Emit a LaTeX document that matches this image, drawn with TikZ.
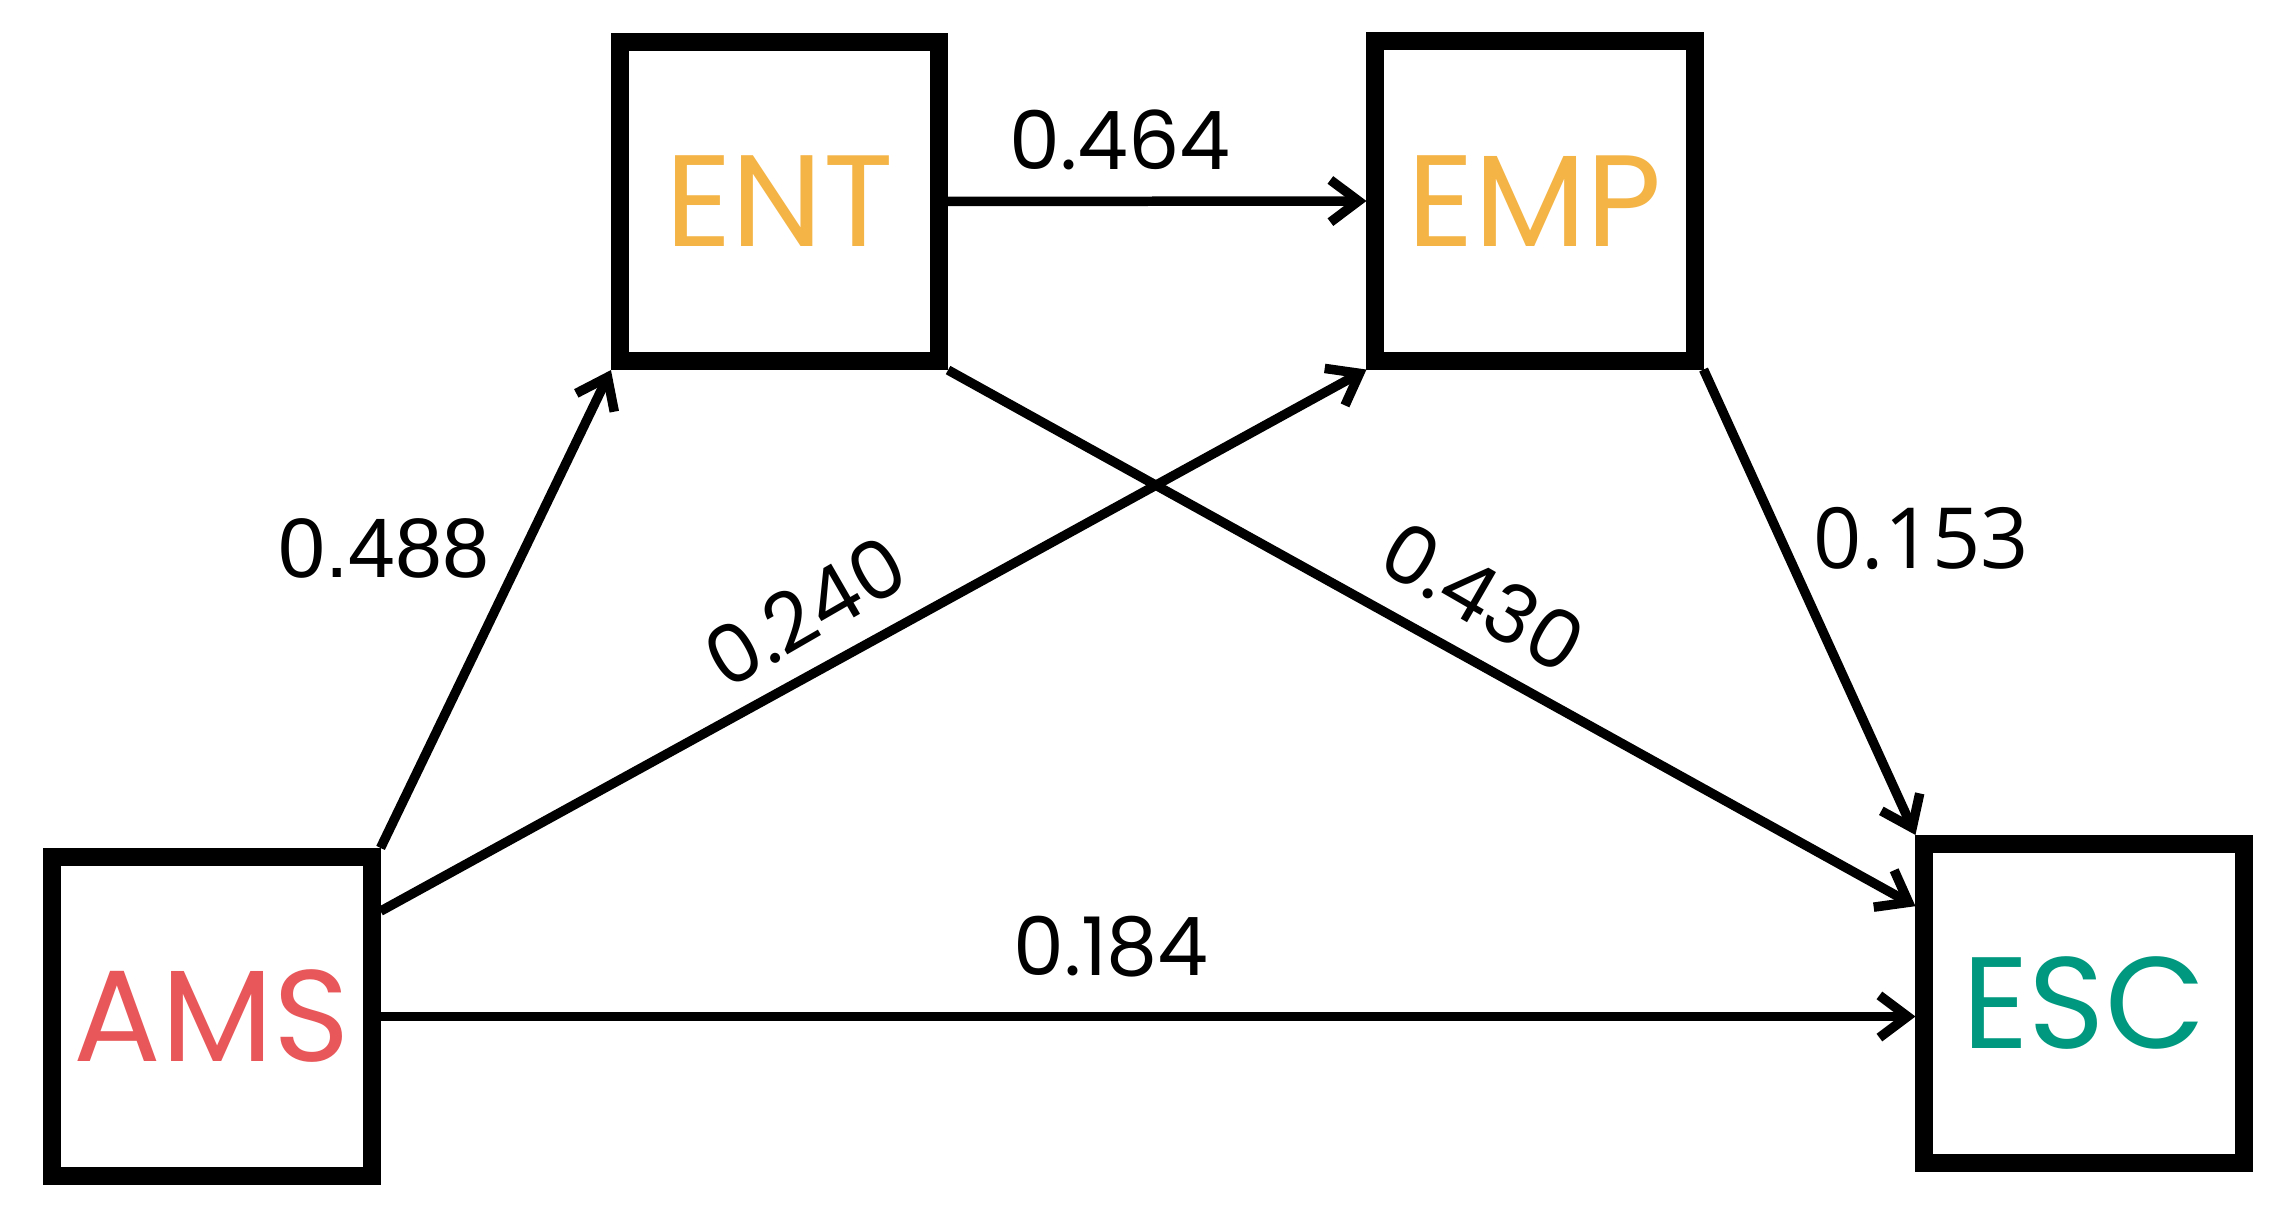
\documentclass[tikz,border=0pt]{standalone}
\usepackage{fontspec}
\setmainfont{Liberation Sans}
\newfontfamily\boxfont{Poppins}
\newfontfamily\futfont{Poppins}
\newfontfamily\segfont{Open Sans}
\usetikzlibrary{arrows.meta}
\definecolor{entcol}{HTML}{F4B446}
\definecolor{amscol}{HTML}{E8585A}
\definecolor{esccol}{HTML}{00997F}
\begin{document}
\begin{tikzpicture}[x=0.01cm,y=0.01cm,
  varbox/.style={draw=black, line width=5.1pt, minimum width=3.19cm, minimum height=3.19cm,
    inner sep=0pt, fill=white, font=\boxfont\fontsize{37}{40}\selectfont},
  conn/.style={line width=2.7pt, -{Straight Barb[length=8pt,width=12pt]}},
  lbl/.style={font=\futfont\fontsize{23}{25}\selectfont, inner sep=0pt},
  lblarial/.style={font=\fontsize{24}{26}\selectfont, inner sep=0pt},
  lblseg/.style={font=\segfont\fontsize{24}{26}\selectfont, inner sep=0pt}
]
\useasboundingbox (0,0) rectangle (2278,-1216);
\node[varbox, text=entcol] (ENT) at (779.5,-201.5) {ENT};
\node[varbox, text=entcol] (EMP) at (1535,-201) {EMP};
\node[varbox, text=amscol] (AMS) at (212,-1016.5) {AMS};
\node[varbox, text=esccol] (ESC) at (2084,-1003.5) {ESC};

\draw[conn] (AMS.north east) -- (ENT.south west);
\draw[conn] (AMS.32) -- (EMP.south west);
\draw[conn] (AMS.east) -- (AMS.east -| ESC.west);
\draw[conn] (ENT.east) -- (EMP.west);
\draw[conn] (ENT.south east) -- (ESC.150);
\draw[conn] (EMP.south east) -- (ESC.north west);

\node[lbl] (l464) at (1120,-140) {0.464};
\node[lblarial] (l488) at (384,-548) {0.488};
\node[lbl, rotate=30] (l240) at (805,-612) {0.240};
\node[lbl, rotate=-30] (l430) at (1483,-597) {0.430};
\node[lblseg] (l153) at (1921,-539) {0.153};
\node[lbl] (l184) at (1111,-947) {0.184};
\end{tikzpicture}
\end{document}
